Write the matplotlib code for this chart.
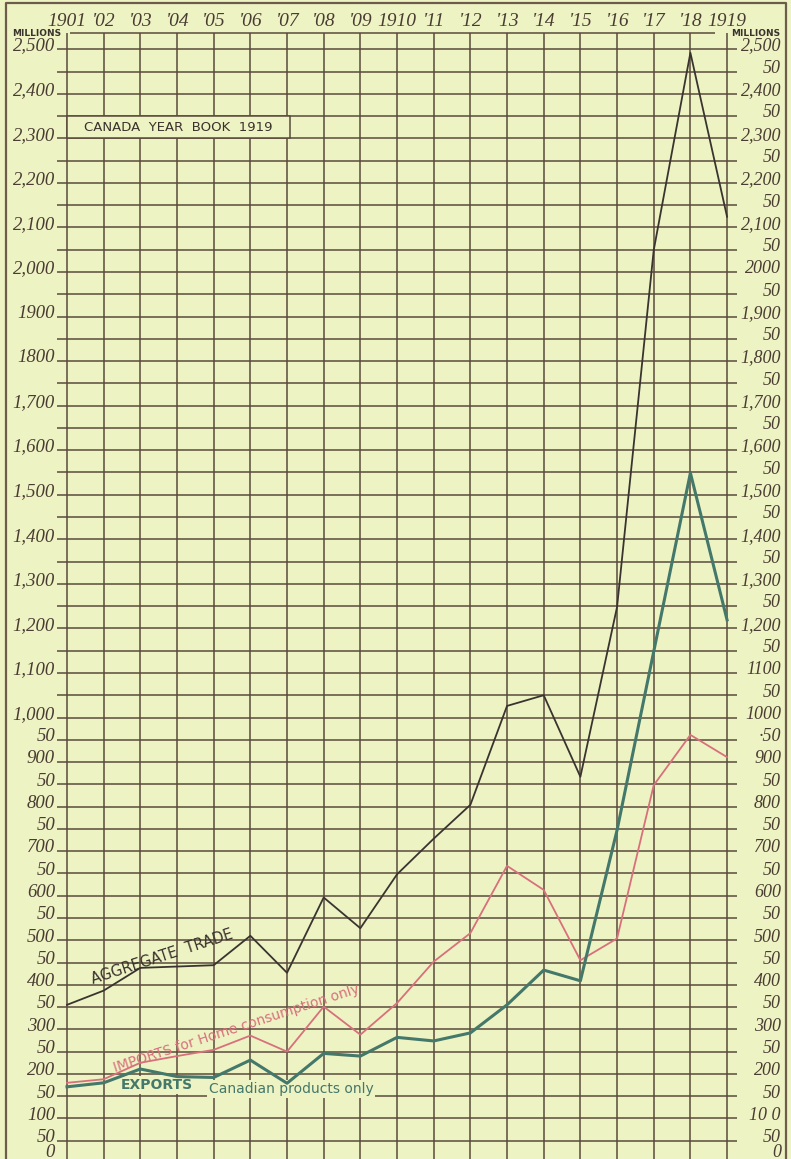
import matplotlib
matplotlib.use("Agg")
import matplotlib.pyplot as plt
from matplotlib.patches import Rectangle

# ---- data (millions of dollars)
years = list(range(1901, 1920))
year_labels = ["1901", "'02", "'03", "'04", "'05", "'06", "'07", "'08", "'09", "1910",
               "'11", "'12", "'13", "'14", "'15", "'16", "'17", "'18", "1919"]
aggregate = [355, 387, 438, 441, 444, 510, 427, 596, 527, 648,
             728, 804, 1026, 1050, 867, 1248, 2049, 2492, 2124]
imports = [180, 188, 225, 240, 254, 286, 250, 351, 288, 359,
           452, 516, 667, 613, 455, 504, 848, 961, 911]
exports = [171, 180, 211, 194, 192, 231, 179, 246, 240, 282,
           274, 292, 355, 433, 409, 747, 1148, 1549, 1219]

left_vals = list(range(2500, 999, -100)) + list(range(950, -1, -50))
left_labels = ["2,500", "2,400", "2,300", "2,200", "2,100", "2,000", "1900", "1800",
               "1,700", "1,600", "1,500", "1,400", "1,300", "1,200", "1,100", "1,000",
               "50", "900", "50", "800", "50", "700", "50", "600", "50", "500",
               "50", "400", "50", "300", "50", "200", "50", "100", "50", "0"]
right_vals = list(range(2500, -1, -50))
right_labels = ["2,500", "50", "2,400", "50", "2,300", "50", "2,200", "50", "2,100", "50",
                "2000", "50", "1,900", "50", "1,800", "50", "1,700", "50", "1,600", "50",
                "1,500", "50", "1,400", "50", "1,300", "50", "1,200", "50", "1100", "50",
                "1000", "\u00b750", "900", "50", "800", "50", "700", "50", "600", "50",
                "500", "50", "400", "50", "300", "50", "200", "50", "10 0", "50", "0"]

# ---- look
bg       = "#eef3c4"
grid_c   = "#5a4a3a"
frame_c  = "#6e5c4a"
ink      = "#3a322c"
agg_c    = "#3a3430"
imp_c    = "#d8707c"
exp_c    = "#44786a"
num_font = dict(family="Liberation Serif", style="italic", color="#4a3c32")

W, H = 791, 1159
PX0, DX = 67, 36.67        # pixel of 1901 and pixels per year
PY0, KY = 1163, 0.4455     # pixel of zero and pixels per million


def px_x(px):
    return 1901 + (px - PX0) / DX


def px_y(py):
    return (PY0 - py) / KY


fig = plt.figure(figsize=(W / 100, H / 100), dpi=100, facecolor=bg)
ax = fig.add_axes([0, 0, 1, 1])
ax.set_facecolor(bg)
ax.set_xlim(px_x(0), px_x(W))
ax.set_ylim(px_y(H), px_y(0))
ax.axis("off")

top_val = px_y(33)

# grid
ax.vlines(years, 0, top_val, color=grid_c, lw=1.1, zorder=1)
ax.hlines(right_vals, px_x(57), px_x(737), color=grid_c, lw=1.1, zorder=1)
ax.hlines(top_val, px_x(70), px_x(715), color=grid_c, lw=1.1, zorder=1)

# outer frame
ax.plot([px_x(6), px_x(6), px_x(786), px_x(786)],
        [px_y(H), px_y(3), px_y(3), px_y(H)], color=frame_c, lw=1.6, clip_on=False)

# axis numbers (the zero sits on the bottom edge)
for v, s in zip(left_vals, left_labels):
    yb = v - 3 if v > 0 else px_y(1157)
    ax.text(px_x(55), yb, s, ha="right", va="baseline", fontsize=13.5, **num_font)
for v, s in zip(right_vals, right_labels):
    yb = v - 3 if v > 0 else px_y(1157)
    ax.text(px_x(781), yb, s, ha="right", va="baseline", fontsize=13, **num_font)
for yr, s in zip(years, year_labels):
    ax.text(yr, px_y(22), s, ha="center", va="center", fontsize=14, **num_font)

ax.text(px_x(12), px_y(33.5), "MILLIONS", ha="left", va="center", fontsize=6.5,
        fontweight="bold", color=ink)
ax.text(px_x(780), px_y(33), "MILLIONS", ha="right", va="center", fontsize=6.5,
        fontweight="bold", color=ink)

# title box
ax.add_patch(Rectangle((1901, 2300), px_x(290) - 1901, 50, facecolor=bg,
                       edgecolor=grid_c, lw=1.1, zorder=2))
ax.text((1901 + px_x(290)) / 2, 2325, "CANADA  YEAR  BOOK  1919", ha="center",
        va="center", fontsize=9.5, color=ink, zorder=3)

# series
ax.plot(years, aggregate, color=agg_c, lw=1.3, zorder=4)
ax.plot(years, imports, color=imp_c, lw=1.3, zorder=4)
ax.plot(years, exports, color=exp_c, lw=2.2, zorder=4)

# hand lettering
ax.text(px_x(162), px_y(957), "AGGREGATE  TRADE", rotation=18, ha="center",
        va="center", fontsize=10.5, color=ink, zorder=5)
ax.text(px_x(236), px_y(1028), "IMPORTS for Home consumption only", rotation=18,
        ha="center", va="center", fontsize=10, color=imp_c, zorder=5)
# the exports lettering clears the grid behind it but stays under the lines
ax.text(px_x(157), px_y(1085), "EXPORTS", ha="center", va="center", fontsize=10,
        fontweight="bold", color=exp_c, zorder=3,
        bbox=dict(facecolor=bg, edgecolor="none", pad=1.5))
ax.text(px_x(291), px_y(1089), "Canadian products only", ha="center", va="center",
        fontsize=10, color=exp_c, zorder=3,
        bbox=dict(facecolor=bg, edgecolor="none", pad=1.5))

fig.savefig("out.png", dpi=100, facecolor=bg)
